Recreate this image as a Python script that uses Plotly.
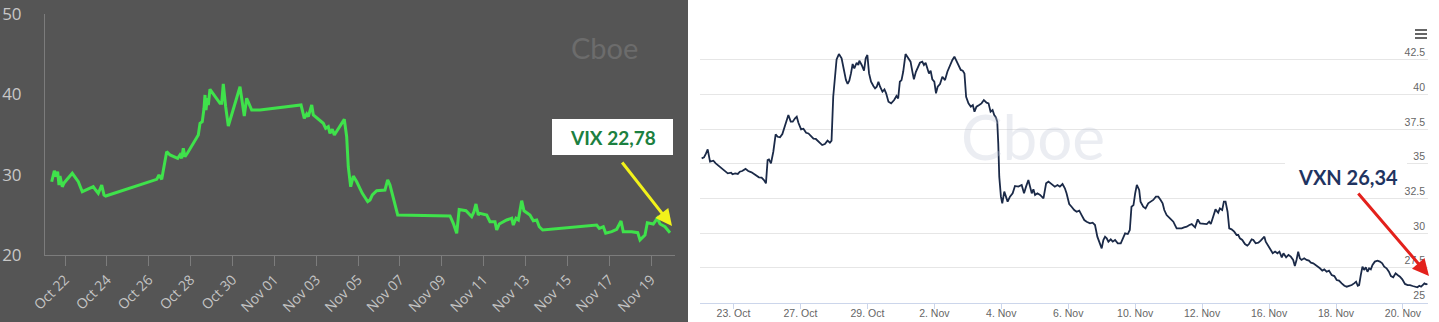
import plotly.graph_objects as go
from datetime import datetime

W, H = 1439, 322

# ---------------- DATA ----------------
vix_time = [
    "2020-10-21 08:45", "2020-10-21 11:45", "2020-10-21 13:40", "2020-10-21 15:35", "2020-10-21 17:05",
    "2020-10-21 18:15", "2020-10-21 20:55", "2020-10-21 23:10", "2020-10-22 08:20", "2020-10-22 13:25",
    "2020-10-22 15:15", "2020-10-22 19:50", "2020-10-23 08:25", "2020-10-23 11:10", "2020-10-23 14:10",
    "2020-10-23 18:05", "2020-10-23 20:45", "2020-10-23 22:40", "2020-10-26 09:10", "2020-10-26 11:45",
    "2020-10-26 14:55", "2020-10-26 20:35", "2020-10-27 00:25", "2020-10-27 09:15", "2020-10-27 11:50",
    "2020-10-27 13:50", "2020-10-27 15:40", "2020-10-27 17:35", "2020-10-27 20:40", "2020-10-28 08:50",
    "2020-10-28 10:50", "2020-10-28 13:25", "2020-10-28 15:25", "2020-10-28 16:30", "2020-10-28 17:40",
    "2020-10-28 19:10", "2020-10-28 20:20", "2020-10-28 22:15", "2020-10-29 09:45", "2020-10-29 11:40",
    "2020-10-29 13:30", "2020-10-29 16:15", "2020-10-29 19:15", "2020-10-30 08:40", "2020-10-30 13:35",
    "2020-10-30 16:20", "2020-10-30 19:00", "2020-10-30 22:05", "2020-10-31 07:35", "2020-11-02 06:40",
    "2020-11-02 10:25", "2020-11-02 13:10", "2020-11-02 15:00", "2020-11-02 18:55", "2020-11-02 20:45",
    "2020-11-03 02:25", "2020-11-03 08:10", "2020-11-03 10:55", "2020-11-03 13:55", "2020-11-03 15:50",
    "2020-11-03 18:30", "2020-11-03 20:50", "2020-11-04 08:15", "2020-11-04 11:00", "2020-11-04 12:50",
    "2020-11-04 15:35", "2020-11-04 18:35", "2020-11-04 22:30", "2020-11-05 04:55", "2020-11-05 11:05",
    "2020-11-05 13:45", "2020-11-05 16:25", "2020-11-05 21:25", "2020-11-06 06:55", "2020-11-06 10:00",
    "2020-11-06 12:40", "2020-11-06 15:20", "2020-11-06 21:30", "2020-11-09 09:30", "2020-11-09 13:15",
    "2020-11-09 17:10", "2020-11-09 20:00", "2020-11-10 03:50", "2020-11-10 10:20", "2020-11-10 13:00",
    "2020-11-10 15:15", "2020-11-10 17:55", "2020-11-10 19:50", "2020-11-11 03:35", "2020-11-11 07:20",
    "2020-11-11 13:05", "2020-11-11 15:00", "2020-11-11 18:00", "2020-11-12 02:30", "2020-11-12 08:15",
    "2020-11-12 10:05", "2020-11-12 13:10", "2020-11-12 15:50", "2020-11-12 19:40", "2020-11-12 22:20",
    "2020-11-13 05:10", "2020-11-13 09:00", "2020-11-13 12:55", "2020-11-13 15:50", "2020-11-13 19:45",
    "2020-11-16 09:40", "2020-11-16 12:40", "2020-11-16 17:15", "2020-11-16 20:00", "2020-11-17 02:55",
    "2020-11-17 08:40", "2020-11-17 13:35", "2020-11-17 16:10", "2020-11-18 01:50", "2020-11-18 08:45",
    "2020-11-18 11:20", "2020-11-18 17:05", "2020-11-18 19:45", "2020-11-19 02:35", "2020-11-19 07:10",
    "2020-11-19 10:20", "2020-11-19 16:00", "2020-11-19 21:45",
]
vix_value = [
    29.12, 30.49, 29.75, 30.37, 28.71, 29.83, 28.50, 29.00, 30.17, 29.34,
    29.12, 27.88, 28.50, 28.09, 27.68, 28.71, 27.47, 27.34, 29.42, 29.96,
    29.42, 32.86, 32.45, 32.04, 32.45, 32.04, 33.28, 32.24, 32.73, 34.94,
    36.39, 36.59, 38.26, 39.92, 38.05, 39.51, 38.67, 40.63, 38.88, 38.88,
    41.29, 38.46, 36.06, 40.95, 37.30, 39.51, 38.88, 38.05, 38.05, 38.67,
    37.02, 37.55, 37.22, 38.67, 37.43, 36.89, 36.40, 35.77, 35.97, 35.15,
    35.65, 34.94, 36.89, 34.73, 30.99, 28.50, 29.83, 29.12, 27.68, 26.64,
    26.85, 27.47, 28.00, 28.09, 29.34, 28.71, 27.68, 24.98, 24.86, 23.95,
    22.70, 25.66, 25.51, 24.77, 25.39, 26.35, 24.98, 25.19, 24.98, 24.15,
    24.15, 23.11, 23.86, 24.36, 24.57, 23.73, 24.57, 24.36, 26.76, 25.51,
    24.98, 24.27, 24.36, 23.52, 23.11, 23.73, 23.32, 23.52, 22.70, 22.90,
    23.20, 24.23, 22.90, 22.90, 22.78, 21.87, 22.49, 24.02, 23.86, 24.57,
    23.86, 23.52, 22.78,
]
vix_ticks = [20, 30, 40, 50]
vix_label = "VIX 22,78"

trading_days = [
    "2020-10-22", "2020-10-23", "2020-10-26", "2020-10-27", "2020-10-28", "2020-10-29", "2020-10-30",
    "2020-11-02", "2020-11-03", "2020-11-04", "2020-11-05", "2020-11-06", "2020-11-09", "2020-11-10",
    "2020-11-11", "2020-11-12", "2020-11-13", "2020-11-16", "2020-11-17", "2020-11-18", "2020-11-19",
    "2020-11-20",
]
vxn_tick_days = ["2020-10-23", "2020-10-27", "2020-10-29", "2020-11-02", "2020-11-04", "2020-11-06",
                 "2020-11-10", "2020-11-12", "2020-11-16", "2020-11-18", "2020-11-20"]
vxn_session = [
    0.05, 0.12, 0.18, 0.23, 0.30, 0.40, 0.47, 0.60, 0.73, 0.83, 0.93, 0.97, 1.05, 1.13, 1.19, 1.26,
    1.36, 1.44, 1.54, 1.64, 1.76, 1.84, 1.91, 1.97, 2.02, 2.06, 2.12, 2.19, 2.26, 2.32, 2.39, 2.46,
    2.54, 2.64, 2.71, 2.77, 2.84, 2.89, 2.94, 3.02, 3.09, 3.17, 3.24, 3.34, 3.39, 3.46, 3.55, 3.65,
    3.73, 3.81, 3.88, 3.93, 3.98, 4.03, 4.08, 4.15, 4.23, 4.30, 4.36, 4.41, 4.46, 4.51, 4.56, 4.61,
    4.68, 4.73, 4.76, 4.83, 4.90, 4.95, 5.00, 5.05, 5.11, 5.18, 5.23, 5.28, 5.33, 5.38, 5.45, 5.51,
    5.56, 5.63, 5.71, 5.80, 5.87, 5.92, 5.97, 6.02, 6.07, 6.14, 6.22, 6.29, 6.35, 6.39, 6.45, 6.50,
    6.57, 6.64, 6.69, 6.74, 6.79, 6.84, 6.89, 6.94, 7.00, 7.05, 7.10, 7.17, 7.24, 7.32, 7.39, 7.47,
    7.54, 7.60, 7.67, 7.72, 7.79, 7.85, 7.90, 7.95, 8.02, 8.09, 8.15, 8.20, 8.26, 8.34, 8.41, 8.48,
    8.56, 8.62, 8.68, 8.74, 8.79, 8.84, 8.88, 8.91, 8.94, 8.99, 9.03, 9.09, 9.14, 9.19, 9.26, 9.34,
    9.41, 9.51, 9.61, 9.68, 9.74, 9.81, 9.86, 9.91, 9.96, 10.01, 10.08, 10.16, 10.26, 10.34, 10.41,
    10.51, 10.60, 10.68, 10.75, 10.83, 10.90, 10.95, 11.03, 11.10, 11.18, 11.25, 11.33, 11.40, 11.48,
    11.55, 11.65, 11.73, 11.80, 11.87, 11.95, 12.00, 12.05, 12.10, 12.15, 12.20, 12.27, 12.33, 12.40,
    12.48, 12.57, 12.63, 12.70, 12.78, 12.84, 12.89, 12.95, 13.00, 13.05, 13.12, 13.16, 13.24, 13.31,
    13.39, 13.47, 13.54, 13.62, 13.69, 13.76, 13.82, 13.87, 13.94, 14.04, 14.14, 14.19, 14.24, 14.32,
    14.39, 14.46, 14.54, 14.62, 14.69, 14.79, 14.87, 14.94, 15.04, 15.14, 15.21, 15.26, 15.33, 15.40,
    15.48, 15.53, 15.60, 15.65, 15.70, 15.76, 15.81, 15.88, 15.96, 16.03, 16.08, 16.13, 16.20, 16.28,
    16.35, 16.40, 16.48, 16.53, 16.60, 16.68, 16.75, 16.81, 16.86, 16.90, 16.98, 17.06, 17.11, 17.18,
    17.25, 17.31, 17.38, 17.43, 17.51, 17.58, 17.65, 17.72, 17.77, 17.82, 17.87, 17.92, 17.97, 18.05,
    18.12, 18.19, 18.25, 18.32, 18.40, 18.45, 18.52, 18.59, 18.65, 18.72, 18.79, 18.87, 18.95, 19.02,
    19.09, 19.17, 19.25, 19.32, 19.39, 19.47, 19.54, 19.60, 19.65, 19.69, 19.74, 19.79, 19.84, 19.89,
    19.94, 19.99, 20.04, 20.09, 20.16, 20.24, 20.31, 20.38, 20.44, 20.51, 20.58, 20.64, 20.71, 20.78,
    20.84, 20.91, 20.98, 21.06, 21.14, 21.21, 21.29, 21.36, 21.43, 21.49, 21.54, 21.59, 21.64, 21.69,
    21.73,
]
vxn_value = [
    35.40, 35.47, 35.76, 36.05, 35.16, 35.23, 35.04, 34.80, 34.52, 34.32, 34.37, 34.25, 34.32, 34.28, 34.44, 34.49,
    34.64, 34.49, 34.39, 34.20, 34.03, 34.01, 33.84, 33.60, 35.28, 35.33, 35.04, 35.88, 37.13, 36.96, 36.92, 37.16,
    37.73, 38.53, 38.05, 38.05, 38.29, 38.41, 37.97, 37.49, 37.54, 37.25, 37.20, 36.96, 36.82, 36.80, 36.60, 36.36,
    36.44, 36.68, 36.53, 36.68, 39.85, 41.53, 42.54, 42.93, 42.62, 41.78, 41.05, 40.77, 41.01, 41.53, 42.21, 41.89,
    42.30, 42.14, 42.45, 42.14, 41.73, 42.62, 42.86, 41.53, 40.93, 40.62, 40.45, 40.57, 40.93, 40.57, 40.21, 40.38,
    40.09, 39.49, 39.37, 39.61, 39.90, 39.73, 40.93, 41.05, 41.65, 42.93, 42.62, 42.38, 41.59, 41.11, 41.65, 41.97,
    42.30, 42.38, 42.14, 42.30, 41.89, 41.53, 41.73, 41.11, 40.93, 40.09, 40.57, 40.77, 41.29, 41.05, 41.65, 42.14,
    42.50, 42.74, 42.38, 42.14, 41.78, 41.73, 41.53, 39.85, 39.37, 39.13, 39.25, 38.77, 39.13, 39.25, 39.37, 39.61,
    39.42, 39.37, 38.77, 38.89, 38.53, 38.36, 38.05, 36.48, 34.08, 32.64, 32.16, 33.00, 32.64, 32.28, 32.64, 32.88,
    33.41, 33.36, 33.48, 32.88, 33.36, 33.84, 33.36, 32.88, 33.17, 32.76, 32.88, 32.76, 32.52, 33.60, 33.72,
    33.55, 33.36, 33.48, 33.36, 33.55, 33.24, 32.88, 32.11, 31.91, 31.67, 31.55, 31.63, 31.31, 30.95,
    30.83, 30.71, 30.76, 30.59, 29.75, 29.27, 28.91, 29.51, 29.75, 29.63, 29.39, 29.56, 29.39, 29.51,
    29.27, 29.27, 29.63, 29.99, 29.94, 30.23, 31.91, 32.03, 32.88, 33.48, 33.12, 32.28, 31.91, 31.79,
    32.16, 32.28, 32.40, 32.64, 32.64, 32.40, 32.16, 31.67, 31.31, 31.07, 30.83, 30.59, 30.35, 30.35,
    30.35, 30.42, 30.47, 30.59, 30.66, 30.42, 31.00, 30.71, 30.66, 30.66, 30.83, 30.66, 31.19, 31.72,
    31.48, 31.79, 31.67, 32.28, 32.28, 31.55, 30.35, 30.28, 30.11, 29.87, 29.87, 29.63, 29.51, 29.22,
    29.10, 29.22, 29.56, 29.51, 29.27, 29.32, 29.46, 29.63, 29.75, 29.39, 29.03, 28.67, 28.55, 28.67,
    28.55, 28.67, 28.26, 28.55, 28.26, 28.43, 28.31, 28.07, 27.64, 28.07, 28.67, 28.19, 28.07, 28.19,
    28.07, 28.02, 27.88, 27.83, 27.71, 27.59, 27.47, 27.30, 27.39, 27.22, 27.30, 26.98, 26.91, 26.62,
    26.58, 26.38, 26.21, 26.14, 26.19, 26.26, 26.38, 26.50, 26.21, 26.26, 26.98, 27.59, 27.35, 27.54,
    27.22, 27.47, 27.39, 27.71, 27.95, 28.02, 27.95, 27.83, 27.59, 27.47, 27.22, 26.91, 26.82, 27.10,
    26.98, 26.86, 26.67, 26.34, 26.26, 26.26, 26.19, 26.14, 26.10, 26.21, 26.14, 26.26, 26.38, 26.31,
    26.34,
]
vxn_ticks = [25, 27.5, 30, 32.5, 35, 37.5, 40, 42.5]
vxn_label = "VXN 26,34"
watermark = "Cboe"


def fx(x):
    return x / W


def fy(y):
    return 1 - y / H


def fmt_num(v):
    return ("%g" % v)


vxn_tickvals = [trading_days.index(d) for d in vxn_tick_days]
vxn_ticktext = []
for d in vxn_tick_days:
    dt = datetime.strptime(d, "%Y-%m-%d")
    vxn_ticktext.append(f"{dt.day}. {dt.strftime('%b')}")

fig = go.Figure()
fig.add_trace(go.Scatter(
    x=vix_time, y=vix_value, mode="lines",
    line=dict(color="#3fe24b", width=3), xaxis="x", yaxis="y",
    hoverinfo="skip", showlegend=False,
))
fig.add_trace(go.Scatter(
    x=vxn_session, y=vxn_value, mode="lines",
    line=dict(color="#1b2a48", width=1.8), xaxis="x2", yaxis="y2",
    hoverinfo="skip", showlegend=False,
))

left_font = "Open Sans, DejaVu Sans, sans-serif"
hc_font = "Liberation Sans, Arial, sans-serif"

fig.update_layout(
    width=W, height=H, autosize=False,
    margin=dict(l=0, r=0, t=0, b=0, pad=0),
    paper_bgcolor="white", plot_bgcolor="rgba(0,0,0,0)",
    showlegend=False,
    xaxis=dict(
        domain=[fx(45), fx(675)], type="date",
        range=["2020-10-21 01:04", "2020-11-20 03:29"],
        tick0="2020-10-22", dtick=2 * 86400000, tickformat="%b %d",
        tickangle=-45, ticks="outside", ticklen=10, tickcolor="#7c7c7c", tickwidth=1,
        showline=True, linecolor="#7c7c7c", linewidth=1, showgrid=False, zeroline=False,
        tickfont=dict(family=left_font, size=14, color="#c4c4c4"),
        anchor="y", fixedrange=True, automargin=False,
    ),
    yaxis=dict(
        domain=[fy(255), fy(14)], range=[20, 50],
        tickvals=vix_ticks, ticktext=[fmt_num(v) for v in vix_ticks],
        showline=True, linecolor="#7c7c7c", linewidth=1, showgrid=False, zeroline=False,
        ticks="", ticklabelstandoff=19,
        tickfont=dict(family=left_font, size=17, color="#c8c8c8"),
        anchor="x", fixedrange=True, automargin=False,
    ),
    xaxis2=dict(
        domain=[fx(700), fx(1428)], range=[0, 21.748],
        tickvals=vxn_tickvals, ticktext=vxn_ticktext,
        ticks="outside", ticklen=5, tickcolor="#ccd6eb", ticklabelstandoff=-4,
        showline=True, linecolor="#ccd6eb", linewidth=1, showgrid=False, zeroline=False,
        tickfont=dict(family=hc_font, size=10.5, color="#666666"),
        anchor="y2", fixedrange=True, automargin=False,
    ),
    yaxis2=dict(
        domain=[fy(302.5), fy(39.2)], range=[25, 44],
        side="right", tickvals=vxn_ticks, ticktext=[fmt_num(v) for v in vxn_ticks],
        ticklabelposition="inside top",
        showgrid=True, gridcolor="#e6e6e6", gridwidth=1, zeroline=False, showline=False,
        ticks="", tickfont=dict(family=hc_font, size=10.5, color="#666666"),
        anchor="x2", fixedrange=True, automargin=False,
    ),
)

shapes = [
    dict(type="rect", xref="paper", yref="paper", x0=0, x1=fx(688), y0=0, y1=1,
         fillcolor="#555555", line=dict(width=0), layer="below"),
    dict(type="rect", xref="paper", yref="paper", x0=fx(552), x1=fx(673), y0=fy(155), y1=fy(119),
         fillcolor="white", line=dict(width=0), layer="above"),
    dict(type="rect", xref="paper", yref="paper", x0=fx(1285), x1=fx(1407), y0=fy(185), y1=fy(154),
         fillcolor="white", line=dict(width=0), layer="above"),
]
for yy in (30, 34, 38):
    shapes.append(dict(type="line", xref="paper", yref="paper", x0=fx(1415), x1=fx(1427),
                       y0=fy(yy), y1=fy(yy), line=dict(color="#666666", width=2)))
fig.update_layout(shapes=shapes)

annotations = [
    dict(text=watermark, xref="paper", yref="paper", x=fx(604), y=fy(47), showarrow=False,
         font=dict(family="Lato, sans-serif", size=29, color="#6c6c6c"), xanchor="center", yanchor="middle"),
    dict(text=watermark, xref="paper", yref="paper", x=fx(1033), y=fy(136), showarrow=False,
         font=dict(family="Lato, sans-serif", size=62, color="rgba(190,196,212,0.3)"),
         xanchor="center", yanchor="middle"),
    dict(text=f"<b>{vix_label}</b>", xref="paper", yref="paper", x=fx(612.5), y=fy(137), showarrow=False,
         font=dict(family="Lato, sans-serif", size=19, color="#1c8040"), xanchor="center", yanchor="middle"),
    dict(text=f"<b>{vxn_label}</b>", xref="paper", yref="paper", x=fx(1348), y=fy(177), showarrow=False,
         font=dict(family="Lato, sans-serif", size=20, color="#1f3461"), xanchor="center", yanchor="middle"),
    dict(text="", xref="paper", yref="paper", x=fx(672), y=fy(226), ax=621 - 672, ay=161 - 226,
         showarrow=True, arrowhead=2, arrowsize=1.1, arrowwidth=3, arrowcolor="#f2f21a", standoff=0),
    dict(text="", xref="paper", yref="paper", x=fx(1429), y=fy(276), ax=1357 - 1429, ay=192 - 276,
         showarrow=True, arrowhead=2, arrowsize=1.1, arrowwidth=3, arrowcolor="#e3211c", standoff=0),
]
fig.update_layout(annotations=annotations)

fig.write_html(
    "out.html",
    config={"displayModeBar": False},
    post_script="document.body.style.margin='0px';document.body.style.padding='0px';",
)
